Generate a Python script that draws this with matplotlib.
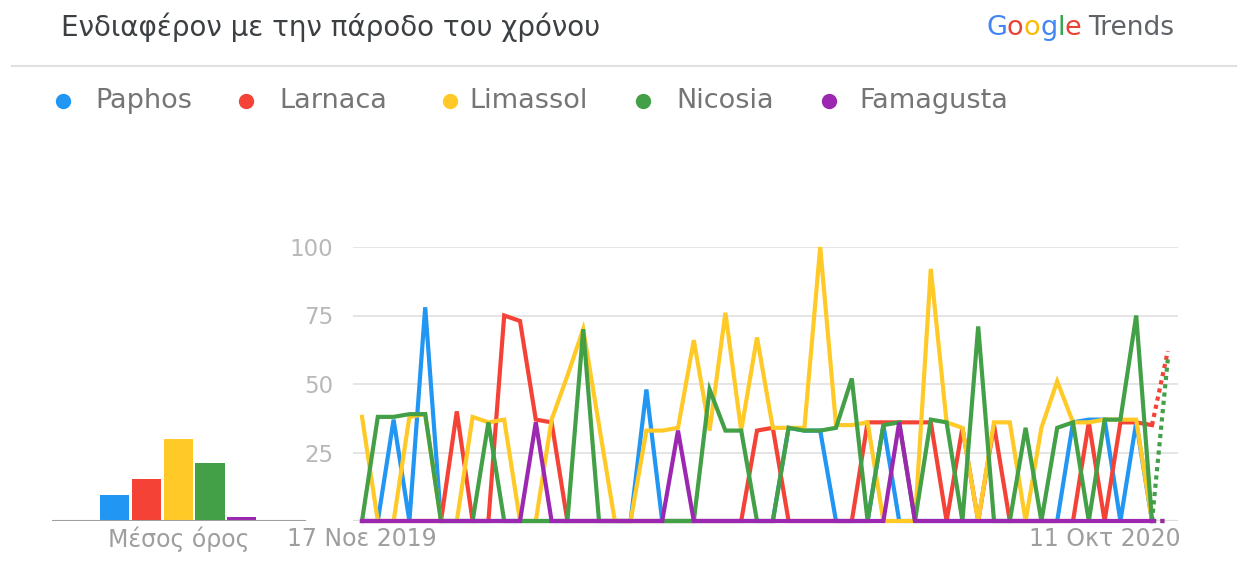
import matplotlib
matplotlib.use('Agg')
import matplotlib.pyplot as plt
from matplotlib.lines import Line2D
import numpy as np

plt.rcParams['font.family'] = ['DejaVu Sans']

# ---------------- data ----------------
title = 'Ενδιαφέρον με την πάροδο του χρόνου'
series_names = ['Paphos', 'Larnaca', 'Limassol', 'Nicosia', 'Famagusta']
colors = ['#2196F3', '#F44336', '#FFCA28', '#43A047', '#9C27B0']

paphos = [0, 0, 37, 0, 78, 0, 0, 0, 0, 0,
          0, 0, 0, 0, 0, 0, 0, 0, 48, 0,
          0, 0, 0, 0, 0, 0, 0, 34, 33, 33,
          0, 0, 0, 35, 0, 0, 0, 0, 0, 0,
          0, 0, 0, 0, 0, 36, 37, 37, 0, 36,
          0, 0]
larnaca = [0, 0, 0, 0, 0, 0, 40, 0, 0, 75,
           73, 37, 36, 0, 0, 0, 0, 0, 0, 0,
           0, 0, 0, 0, 0, 33, 34, 0, 0, 0,
           0, 0, 36, 36, 36, 36, 36, 0, 34, 0,
           35, 0, 0, 0, 0, 0, 36, 0, 36, 36,
           35, 62]
limassol = [38, 0, 0, 38, 39, 0, 0, 38, 36, 37,
            0, 0, 37, 53, 70, 35, 0, 0, 33, 33,
            34, 66, 33, 76, 33, 67, 34, 34, 34, 100,
            35, 35, 36, 0, 0, 0, 92, 36, 34, 0,
            36, 36, 0, 34, 51, 36, 36, 37, 37, 37,
            0, 0]
nicosia = [0, 38, 38, 39, 39, 0, 0, 0, 36, 0,
           0, 0, 0, 0, 70, 0, 0, 0, 0, 0,
           0, 0, 48, 33, 33, 0, 0, 34, 33, 33,
           34, 52, 0, 35, 36, 0, 37, 36, 0, 71,
           0, 0, 34, 0, 34, 36, 0, 37, 37, 75,
           0, 59]
famagusta = [0, 0, 0, 0, 0, 0, 0, 0, 0, 0,
             0, 36, 0, 0, 0, 0, 0, 0, 0, 0,
             33, 0, 0, 0, 0, 0, 0, 0, 0, 0,
             0, 0, 0, 0, 36, 0, 0, 0, 0, 0,
             0, 0, 0, 0, 0, 0, 0, 0, 0, 0,
             0, 0]
averages = [9.5, 15.5, 30, 21, 1.5]
avg_label = 'Μέσος όρος'
x_labels = ['17 Νοε 2019', '11 Οκτ 2020']
x_label_idx = [0, 47]
y_ticks = [0, 25, 50, 75, 100]
y_tick_labels = ['', '25', '50', '75', '100']
logo_word = 'Google'
logo_colors = ['#4285F4', '#EA4335', '#FBBC05', '#4285F4', '#34A853', '#EA4335']
logo_suffix = 'Trends'

series = [paphos, larnaca, limassol, nicosia, famagusta]

# ---------------- figure ----------------
W, H = 1248, 562
fig = plt.figure(figsize=(W / 100, H / 100), dpi=100)
fig.patch.set_facecolor('white')


def fx(px):
    return px / W


def fy(py):
    return 1 - py / H


# header
fig.text(fx(61), fy(27), title, fontsize=20, color='#3c4043',
         ha='left', va='center')
fig.add_artist(Line2D([fx(12), fx(1236)], [fy(66), fy(66)],
                      transform=fig.transFigure, color='#e0e0e0', lw=1.5))

renderer = fig.canvas.get_renderer()
xpos = 986
for ch, col in zip(logo_word, logo_colors):
    t = fig.text(fx(xpos), fy(35), ch, color=col, fontsize=19.5,
                 ha='left', va='baseline')
    xpos += t.get_window_extent(renderer).width
fig.text(fx(xpos + 6), fy(35), logo_suffix, color='#5f6368', fontsize=19,
         ha='left', va='baseline')

# legend
marker_x = [63, 246, 450, 643, 829]
text_x = [95, 279, 469, 676, 859]
for name, col, mx, tx in zip(series_names, colors, marker_x, text_x):
    fig.add_artist(Line2D([fx(mx)], [fy(101)], transform=fig.transFigure,
                          marker='o', ms=10, color=col, lw=0))
    fig.text(fx(tx), fy(101), name, fontsize=19.5, color='#757575',
             ha='left', va='center')

# ---------------- line chart ----------------
ax_left, ax_right, ax_top, ax_bot = 353, 1178, 247, 521
ax = fig.add_axes([fx(ax_left), fy(ax_bot), fx(ax_right) - fx(ax_left),
                   fy(ax_top) - fy(ax_bot)])
step = 15.8
x0 = 362
ax.set_xlim(-(x0 - ax_left) / step, (ax_right - x0) / step)
ax.set_ylim(0, 100)

n = len(paphos)
xs = np.arange(n)
ax.axhline(0, color='#9e9e9e', lw=1.5, zorder=1)
for vals, col in zip(series, colors):
    v = np.array(vals, dtype=float)
    ax.plot(xs[:n - 1], v[:n - 1], color=col, lw=3.0, clip_on=False,
            solid_joinstyle='miter', zorder=3)
    ax.plot(xs[n - 2:], v[n - 2:], color=col, lw=3.0, clip_on=False,
            linestyle=(0, (1.0, 1.0)), zorder=3)

ax.set_yticks(y_ticks)
ax.set_yticklabels(y_tick_labels)
ax.grid(axis='y', color='#e3e3e3', lw=1.3, zorder=0)
ax.set_xticks(x_label_idx)
ax.set_xticklabels(x_labels)
ax.tick_params(axis='y', length=0, pad=14, labelsize=16.5, labelcolor='#b8b8b8')
ax.tick_params(axis='x', length=0, pad=4, labelsize=17, labelcolor='#9e9e9e')
for s in ax.spines.values():
    s.set_visible(False)
ax.set_facecolor('none')

# ---------------- average bar chart ----------------
b_left, b_right = 52, 306
bx = fig.add_axes([fx(b_left), fy(ax_bot), fx(b_right) - fx(b_left),
                   fy(ax_top) - fy(ax_bot)])
bar_step = 31.7
bar_center = 178.3
bx.set_xlim(2 - (bar_center - b_left) / bar_step, 2 + (b_right - bar_center) / bar_step)
bx.set_ylim(0, 100)
bx.bar(np.arange(len(averages)), averages, width=0.92, color=colors, zorder=2)
bx.axhline(0, color='#9e9e9e', lw=1.5, zorder=3)
bx.set_yticks([])
bx.set_xticks([2])
bx.set_xticklabels([avg_label])
bx.tick_params(axis='x', length=0, pad=4, labelsize=17, labelcolor='#9e9e9e')
for s in bx.spines.values():
    s.set_visible(False)
bx.set_facecolor('none')

fig.savefig('out.png', dpi=100, facecolor='white')
